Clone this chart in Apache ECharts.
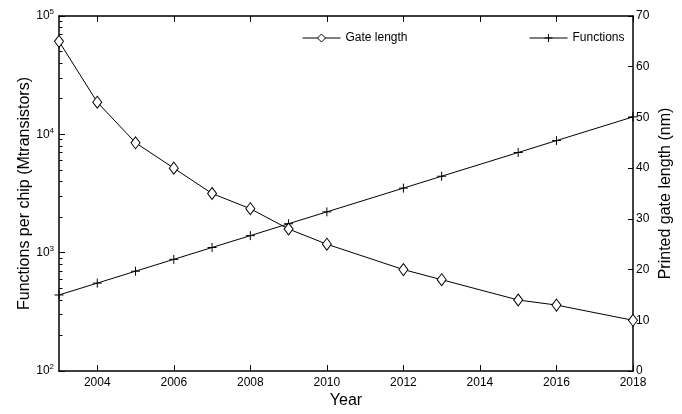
<!DOCTYPE html>
<html>
<head>
<meta charset="utf-8">
<script src="https://cdn.jsdelivr.net/npm/echarts@6/dist/echarts.min.js"></script>
<style>
  html, body { margin: 0; padding: 0; background: #fff; }
  #chart { width: 682px; height: 414px; }
</style>
</head>
<body>
<div id="chart"></div>
<script>
const years = [2003, 2004, 2005, 2006, 2007, 2008, 2009, 2010, 2012, 2013, 2015, 2016, 2018];
const gateLength = [65, 53, 45, 40, 35, 32, 28, 25, 20, 18, 14, 13, 10];
const functions = [439, 553, 697, 878, 1106, 1393, 1756, 2212, 3511, 4424, 7022, 8848, 14045];
const yearTicks = [2004, 2006, 2008, 2010, 2012, 2014, 2016, 2018];

// minor ticks of the log axis (2..9 of each decade), in log10 space
const minorTicks = [];
[2, 3, 4].forEach((p) => {
  for (let k = 2; k <= 9; k++) minorTicks.push(p + Math.log10(k));
});

const font = 'Liberation Sans';
const myChart = echarts.init(document.getElementById('chart'));

const legendBase = {
  itemWidth: 38, itemHeight: 10, itemGap: 5,
  itemStyle: { borderWidth: 1 },
  lineStyle: { width: 1 },
  textStyle: { fontFamily: font, fontSize: 12, color: '#000' }
};

const option = {
  backgroundColor: '#fff',
  textStyle: { fontFamily: font, color: '#000' },
  animation: false,
  grid: { left: 59, right: 44, top: 16, bottom: 39, containLabel: false },
  legend: [
    Object.assign({ data: ['Gate length'], left: 297, top: 27 }, legendBase),
    Object.assign({ data: ['Functions'], left: 524, top: 27 }, legendBase)
  ],
  xAxis: [{
    type: 'value',
    min: 2003, max: 2018,
    position: 'bottom',
    name: 'Year',
    nameLocation: 'middle',
    nameGap: 22,
    nameMoveOverlap: false,
    nameTextStyle: { fontSize: 16, color: '#000', fontFamily: font },
    axisLine: { lineStyle: { color: '#000', width: 1.5 } },
    axisTick: { show: true, inside: true, length: 6, customValues: yearTicks, lineStyle: { color: '#000', width: 1 } },
    axisLabel: {
      customValues: yearTicks, fontSize: 12, color: '#000', margin: 6, fontFamily: font,
      formatter: (v) => String(v)
    },
    splitLine: { show: false }
  }, {
    type: 'value',
    min: 2003, max: 2018,
    position: 'top',
    axisLine: { lineStyle: { color: '#000', width: 1.5 } },
    axisTick: { show: true, inside: true, length: 6, customValues: yearTicks, lineStyle: { color: '#000', width: 1 } },
    axisLabel: { show: false },
    splitLine: { show: false }
  }],
  yAxis: [{
    type: 'log',
    logBase: 10,
    min: 100, max: 100000,
    position: 'left',
    name: 'Functions per chip (Mtransistors)',
    nameLocation: 'middle',
    nameGap: 26,
    nameMoveOverlap: false,
    nameTextStyle: { fontSize: 16, color: '#000', fontFamily: font },
    axisLine: { lineStyle: { color: '#000', width: 1.5 } },
    axisTick: { show: true, inside: true, length: 6, lineStyle: { color: '#000', width: 1 } },
    axisLabel: {
      margin: 5,
      formatter: (v) => '{b|10}{s|' + Math.round(Math.log10(v)) + '}',
      rich: {
        b: { fontSize: 12, color: '#000', fontFamily: font },
        s: { fontSize: 8, color: '#000', fontFamily: font, padding: [0, 0, 8, 0] }
      }
    },
    splitLine: { show: false }
  }, {
    type: 'value',
    min: 0, max: 70, interval: 10,
    position: 'right',
    name: 'Printed gate length (nm)',
    nameLocation: 'middle',
    nameGap: 25,
    nameMoveOverlap: false,
    nameTextStyle: { fontSize: 16, color: '#000', fontFamily: font },
    axisLine: { lineStyle: { color: '#000', width: 1.5 } },
    axisTick: { show: true, inside: true, length: 5, lineStyle: { color: '#000', width: 1 } },
    axisLabel: { fontSize: 12, color: '#000', margin: 3, fontFamily: font },
    splitLine: { show: false }
  }, {
    type: 'value',
    min: 2, max: 5,
    position: 'left',
    axisLine: { show: false },
    axisTick: { show: true, inside: true, length: 3.5, customValues: minorTicks, lineStyle: { color: '#000', width: 1 } },
    axisLabel: { show: false },
    splitLine: { show: false }
  }],
  series: [{
    name: 'Gate length',
    type: 'line',
    xAxisIndex: 0,
    yAxisIndex: 1,
    data: years.map((y, i) => [y, gateLength[i]]),
    symbol: 'path://M5,0L10,7L5,14L0,7Z',
    symbolSize: [9, 12],
    showAllSymbol: true,
    itemStyle: { color: '#fff', borderColor: '#000', borderWidth: 1 },
    lineStyle: { color: '#000', width: 1 },
    z: 3
  }, {
    name: 'Functions',
    type: 'line',
    xAxisIndex: 0,
    yAxisIndex: 0,
    data: years.map((y, i) => [y, functions[i]]),
    symbol: 'path://M0,4L8,4M4,0L4,8',
    symbolSize: 9,
    showAllSymbol: true,
    itemStyle: { color: '#000', borderColor: '#000', borderWidth: 1 },
    lineStyle: { color: '#000', width: 1 },
    z: 2
  }]
};
myChart.setOption(option);
</script>
</body>
</html>
